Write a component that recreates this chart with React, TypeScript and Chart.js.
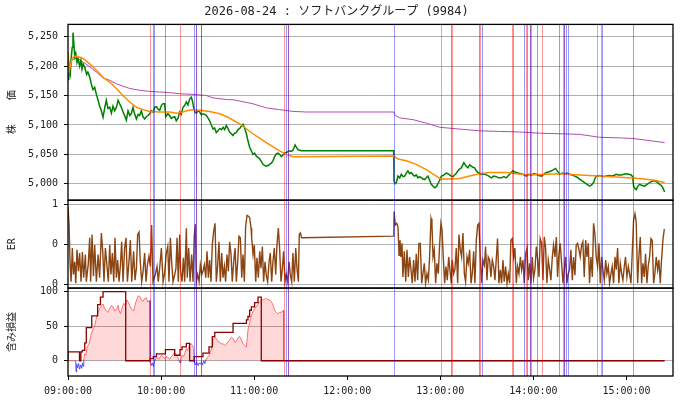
import React, { useEffect, useRef } from 'react';
import { Chart, registerables } from 'chart.js';

Chart.register(...registerables);

const MONO = "'DejaVu Sans Mono', 'Noto Sans CJK JP', monospace";

// minutes after 09:00
const timeTicks = [0, 60, 120, 180, 240, 300, 360];
const priceTicks = [5000, 5050, 5100, 5150, 5200, 5250];
const erTicks = [0, 0.5, 1];
const erTickLabels = ['0', '0', '1'];
const plTicks = [0, 50, 100];

// 株価 (tick prices, sampled)
const price: [number, number][] = [
  [0, 5185], [0.4, 5176], [0.9, 5198], [1.5, 5188], [2.1, 5215], [2.7, 5232], [3.2, 5257], [3.7, 5242],
  [4.3, 5216], [5.0, 5222], [5.8, 5206], [6.5, 5213], [7.5, 5200], [8.3, 5210], [9.0, 5195], [9.7, 5204],
  [10.8, 5198], [12.0, 5186], [12.8, 5190], [14.0, 5181], [15.0, 5170], [16.1, 5160], [17.2, 5164],
  [18.3, 5152], [19.4, 5142], [20.4, 5132], [21.5, 5124], [22.6, 5113], [23.6, 5128], [24.7, 5142],
  [25.8, 5128], [26.9, 5130], [28.0, 5120], [29.0, 5132], [30.1, 5124], [31.2, 5130], [32.3, 5142],
  [33.3, 5136], [34.4, 5130], [35.5, 5122], [36.5, 5116], [37.6, 5108], [38.7, 5124], [39.8, 5116],
  [40.8, 5119], [41.9, 5130], [43.0, 5118], [44.1, 5110], [45.2, 5118], [46.2, 5116], [47.3, 5124],
  [48.3, 5114], [49.4, 5110], [50.5, 5114], [51.6, 5116], [52.7, 5119], [53.7, 5124], [54.8, 5122],
  [55.9, 5130], [57.0, 5131], [58.0, 5127], [59.1, 5125], [60.2, 5133], [61.2, 5136], [62.3, 5136],
  [63.0, 5114], [64.4, 5119], [65.5, 5116], [66.6, 5111], [67.7, 5113], [68.8, 5114], [69.8, 5107],
  [71.0, 5112], [72.0, 5122], [73.0, 5118], [74.1, 5130], [75.2, 5133], [76.3, 5139], [77.3, 5134],
  [78.4, 5144], [79.5, 5147], [80.3, 5140], [81.2, 5127], [82.0, 5121], [82.7, 5120], [83.8, 5124],
  [84.9, 5122], [86.0, 5117], [87.0, 5119], [88.1, 5118], [89.2, 5116], [90.2, 5112], [91.3, 5107],
  [92.4, 5100], [93.5, 5093], [94.5, 5095], [95.6, 5087], [96.7, 5090], [97.8, 5094], [99.0, 5092],
  [100.0, 5096], [101.0, 5092], [102.0, 5099], [103.1, 5094], [104.2, 5088], [105.3, 5085], [106.3, 5082],
  [107.4, 5086], [108.5, 5087], [109.6, 5092], [110.7, 5094], [111.7, 5098], [112.8, 5101], [113.9, 5094],
  [115.0, 5085], [116.0, 5073], [117.1, 5062], [118.2, 5056], [119.2, 5050], [120.3, 5052], [121.4, 5047],
  [122.5, 5045], [123.6, 5042], [124.6, 5038], [125.7, 5033], [126.8, 5031], [127.9, 5030], [129.0, 5031],
  [130.0, 5033], [131.1, 5035], [132.1, 5039], [133.2, 5046], [134.3, 5051], [135.3, 5052], [136.4, 5050],
  [137.5, 5046], [138.6, 5049], [139.7, 5052], [140.8, 5053], [141.9, 5055], [142.9, 5056], [144.0, 5055],
  [145.0, 5057], [145.8, 5062], [146.4, 5066], [147.3, 5062], [148.2, 5058], [149.3, 5057], [150.4, 5056],
  [210.0, 5056],
  [210.1, 5005], [210.9, 5000], [211.7, 5002], [212.7, 5013], [213.8, 5010], [214.9, 5016], [216.0, 5012],
  [217.0, 5013], [218.1, 5018], [219.1, 5022], [220.2, 5017], [221.3, 5019], [222.4, 5015], [223.5, 5013],
  [224.5, 5015], [225.6, 5010], [226.7, 5012], [227.8, 5010], [228.8, 5008], [229.9, 5007], [231.0, 5010],
  [232.0, 5013], [233.1, 5006], [234.2, 4999], [235.2, 4996], [236.3, 4993], [237.4, 4995], [238.5, 5000],
  [239.6, 5006], [240.7, 5013], [241.7, 5014], [242.8, 5016], [243.9, 5018], [244.9, 5017], [246.0, 5015],
  [247.1, 5013], [248.2, 5012], [249.2, 5015], [250.3, 5018], [251.4, 5022], [252.4, 5025], [253.5, 5027],
  [254.5, 5032], [255.2, 5036], [256.3, 5031], [257.8, 5027], [258.9, 5032], [260.0, 5030], [261.0, 5028],
  [262.1, 5027], [263.2, 5022], [264.2, 5019], [265.3, 5018], [266.4, 5016], [268.0, 5017], [269.7, 5015],
  [271.3, 5013], [272.9, 5010], [274.5, 5013], [276.1, 5012], [277.7, 5010], [279.3, 5010], [280.9, 5012],
  [282.5, 5010], [283.6, 5013], [284.7, 5016], [285.7, 5019], [286.8, 5022], [287.9, 5020], [289.0, 5019],
  [290.6, 5018], [292.2, 5017], [293.8, 5015], [295.4, 5013], [297.0, 5016], [298.7, 5015], [300.3, 5017],
  [301.9, 5016], [303.5, 5014], [305.1, 5013], [306.7, 5016], [308.3, 5019], [309.9, 5020], [311.6, 5022],
  [313.0, 5024], [314.3, 5026], [315.6, 5021], [316.9, 5016], [318.5, 5018], [320.1, 5017], [321.7, 5018],
  [323.3, 5016], [324.9, 5015], [326.6, 5013], [328.2, 5011], [329.8, 5008], [331.4, 5005], [333.0, 5002],
  [334.6, 4999], [336.2, 4996], [337.5, 4998], [338.8, 5002], [339.6, 5008], [340.5, 5013], [342.2, 5014],
  [343.8, 5013], [345.4, 5012], [347.0, 5013], [348.6, 5014], [350.2, 5013], [351.8, 5014], [353.4, 5016],
  [355.0, 5015], [356.7, 5015], [358.3, 5016], [359.9, 5017], [361.5, 5016], [363.1, 5015], [364.0, 5012],
  [364.6, 4996], [365.4, 4992], [366.3, 4990], [367.4, 4996], [368.5, 4999], [370.1, 4997], [371.7, 4996],
  [373.3, 4999], [374.9, 5002], [376.5, 5004], [378.1, 5005], [379.7, 5003], [381.4, 4999], [382.5, 4997],
  [383.5, 4993], [384.6, 4986],
];

// moving average (orange)
const priceMa: [number, number][] = [
  [0, 5224], [0.9, 5193], [2.0, 5206], [2.9, 5214], [4.3, 5217], [6.5, 5216], [9.7, 5213], [14.0, 5204],
  [18.3, 5193], [22.6, 5181], [26.9, 5173], [31.2, 5162], [35.4, 5150], [39.8, 5139], [44.1, 5130],
  [48.3, 5126], [52.7, 5123], [59.1, 5122], [65.5, 5122], [69.9, 5120], [73.1, 5121], [76.3, 5124],
  [80.6, 5126], [84.9, 5125], [91.3, 5123], [97.8, 5119], [103.1, 5113], [110.7, 5102], [119.2, 5085],
  [127.9, 5070], [136.4, 5056], [140.8, 5050], [145.0, 5046], [147.0, 5046], [210.0, 5047], [212.7, 5042],
  [218.0, 5039], [224.5, 5033], [231.0, 5024], [237.4, 5013], [240.7, 5008], [246.0, 5008], [252.4, 5009],
  [258.9, 5013], [265.3, 5017], [271.7, 5019], [282.5, 5019], [289.0, 5017], [297.6, 5015], [308.3, 5016],
  [316.9, 5017], [329.8, 5015], [342.7, 5013], [355.6, 5011], [368.5, 5009], [378.1, 5006], [384.6, 5002],
];

// running average (purple)
const priceAvg: [number, number][] = [
  [0, 5221], [0.9, 5193], [2.5, 5210], [4.3, 5213], [6.5, 5213], [9.7, 5207], [14.0, 5199], [18.3, 5190],
  [22.6, 5180], [26.9, 5176], [31.2, 5170], [35.4, 5166], [39.8, 5162], [46.2, 5159], [52.7, 5157],
  [59.1, 5156], [65.5, 5155], [72.0, 5153], [80.6, 5152], [89.2, 5150], [93.5, 5146], [103.0, 5143],
  [106.3, 5143], [119.2, 5136], [127.9, 5129], [136.4, 5126], [145.0, 5123], [153.6, 5122], [210.0, 5122],
  [211.0, 5116], [213.8, 5112], [222.4, 5109], [231.0, 5103], [239.6, 5096], [252.4, 5093], [265.3, 5090],
  [278.2, 5089], [291.1, 5088], [304.0, 5086], [316.9, 5085], [329.8, 5084], [342.7, 5079], [355.6, 5078],
  [364.2, 5077], [384.6, 5070],
];

// ER
const er: [number, number][] = [
  [0, 0.97], [0.7, 0.74], [1.3, 0.28], [2.0, 0.03], [2.8, 0.45], [3.5, 0.12], [4.3, 0.28], [5.0, 0.01],
  [5.8, 0.43], [6.7, 0.16], [7.5, 0.39], [8.4, 0.03], [9.3, 0.4], [10.1, 0.08], [11.2, 0.37], [11.8, 0.03],
  [13.1, 0.26], [14.0, 0.58], [14.6, 0.03], [15.5, 0.62], [16.4, 0.1], [17.2, 0.49], [18.3, 0.03],
  [19.4, 0.37], [20.4, 0.08], [21.5, 0.64], [22.4, 0.41], [23.2, 0.03], [24.1, 0.45], [24.9, 0.28],
  [26.0, 0.03], [26.9, 0.49], [27.7, 0.12], [28.6, 0.39], [29.5, 0.03], [30.3, 0.58], [31.2, 0.08],
  [32.0, 0.3], [32.9, 0.03], [33.8, 0.24], [34.6, 0.53], [35.5, 0.03], [36.5, 0.45], [37.4, 0.58],
  [38.3, 0.03], [39.3, 0.28], [40.2, 0.55], [41.1, 0.03], [42.3, 0.41], [43.2, 0.05], [44.1, 0.2],
  [44.9, 0.62], [45.8, 0.65], [46.6, 0.28], [47.5, 0.03], [48.4, 0.16], [49.4, 0.39], [50.3, 0.03],
  [51.2, 0.24], [52.2, 0.35], [53.1, 0.22], [53.9, 0.74], [54.8, 0.03], [55.2, 0.03], [56.3, 0.12],
  [57.4, 0.22], [58.2, 0.03], [59.1, 0.2], [60.2, 0.45], [61.3, 0.03], [62.3, 0.14], [63.4, 0.39],
  [64.3, 0.47], [65.1, 0.03], [66.0, 0.58], [66.8, 0.28], [67.7, 0.03], [68.8, 0.12], [69.6, 0.2],
  [70.3, 0.58], [71.1, 0.03], [72.0, 0.62], [72.6, 0.16], [73.5, 0.03], [74.4, 0.33], [75.2, 0.03],
  [76.3, 0.7], [76.9, 0.08], [77.8, 0.45], [78.7, 0.03], [79.7, 0.37], [80.6, 0.03], [81.4, 0.6],
  [82.1, 0.75], [82.7, 0.03], [83.6, 0.12], [84.5, 0.03], [85.3, 0.24], [86.2, 0.12], [87.0, 0.16],
  [87.9, 0.24], [88.8, 0.08], [89.6, 0.41], [90.5, 0.08], [91.3, 0.3], [92.2, 0.03], [93.0, 0.49],
  [93.9, 0.66], [94.8, 0.76], [95.6, 0.03], [96.5, 0.24], [97.3, 0.53], [98.2, 0.03], [99.1, 0.39],
  [99.9, 0.08], [100.8, 0.22], [101.6, 0.03], [102.5, 0.37], [103.4, 0.16], [104.2, 0.53], [105.1, 0.37],
  [105.9, 0.03], [106.8, 0.28], [107.7, 0.45], [108.5, 0.03], [109.4, 0.28], [110.2, 0.6], [111.1, 0.58],
  [112.0, 0.08], [112.8, 0.37], [113.7, 0.03], [114.5, 0.72], [115.4, 0.86], [116.3, 0.85], [117.1, 0.83],
  [118.0, 0.7], [118.4, 0.58], [119.3, 0.37], [120.1, 0.49], [121.0, 0.03], [121.8, 0.33], [122.7, 0.08],
  [123.6, 0.41], [124.4, 0.2], [125.3, 0.47], [126.1, 0.03], [127.0, 0.28], [127.9, 0.1], [128.7, 0.03],
  [129.6, 0.28], [130.4, 0.39], [131.3, 0.03], [132.1, 0.28], [133.0, 0.45], [133.9, 0.12], [134.7, 0.49],
  [135.6, 0.7], [136.4, 0.45], [137.3, 0.03], [138.2, 0.2], [139.0, 0.41], [139.9, 0.03], [140.7, 0.12],
  [141.6, 0.03], [142.5, 0.28], [143.3, 0.12], [144.2, 0.03], [145.0, 0.39], [145.9, 0.03], [146.8, 0.45],
  [147.6, 0.2], [148.5, 0.03], [149.1, 0.62], [149.8, 0.64], [150.6, 0.58], [210.0, 0.6],
  [210.2, 0.91], [211.0, 0.74], [211.9, 0.76], [212.7, 0.72], [213.4, 0.36], [214.0, 0.55], [214.6, 0.34],
  [215.3, 0.51], [215.9, 0.09], [216.8, 0.41], [217.7, 0.03], [218.5, 0.43], [219.4, 0.09], [220.2, 0.34],
  [221.1, 0.18], [221.9, 0.01], [222.8, 0.3], [223.7, 0.03], [224.5, 0.38], [225.4, 0.05], [226.2, 0.51],
  [227.1, 0.51], [228.0, 0.01], [228.8, 0.13], [229.7, 0.26], [230.5, 0.01], [231.4, 0.13], [232.3, 0.05],
  [233.1, 0.34], [234.0, 0.82], [234.6, 0.76], [235.3, 0.34], [236.1, 0.43], [237.0, 0.01], [237.8, 0.26],
  [238.7, 0.13], [239.6, 0.51], [240.4, 0.76], [241.1, 0.68], [241.9, 0.34], [242.8, 0.01], [243.6, 0.22],
  [244.5, 0.05], [245.4, 0.34], [246.2, 0.18], [247.1, 0.01], [247.7, 0.3], [248.6, 0.13], [249.4, 0.18],
  [250.3, 0.45], [251.2, 0.01], [252.0, 0.62], [252.9, 0.43], [253.7, 0.34], [254.6, 0.64], [255.5, 0.13],
  [256.3, 0.03], [257.2, 0.34], [258.0, 0.26], [258.9, 0.43], [259.8, 0.01], [260.6, 0.13], [261.5, 0.41],
  [262.3, 0.01], [263.2, 0.55], [264.1, 0.74], [264.9, 0.76], [265.8, 0.34], [266.6, 0.01], [267.5, 0.3],
  [268.4, 0.24], [269.2, 0.47], [270.1, 0.05], [270.9, 0.34], [271.8, 0.3], [272.6, 0.09], [273.5, 0.3],
  [274.4, 0.22], [275.2, 0.05], [276.1, 0.32], [276.9, 0.57], [277.8, 0.01], [278.7, 0.18], [279.5, 0.01],
  [280.4, 0.3], [281.2, 0.03], [282.1, 0.22], [283.0, 0.01], [283.8, 0.13], [284.7, 0.01], [285.5, 0.55],
  [286.4, 0.57], [287.3, 0.34], [288.1, 0.45], [289.0, 0.01], [289.8, 0.22], [290.7, 0.13], [291.6, 0.34],
  [292.4, 0.18], [293.3, 0.3], [294.1, 0.01], [295.0, 0.38], [295.9, 0.45], [296.7, 0.05], [297.6, 0.26],
  [298.4, 0.01], [299.3, 0.34], [300.1, 0.07], [301.0, 0.18], [301.9, 0.47], [302.7, 0.32], [303.6, 0.09],
  [304.4, 0.57], [305.3, 0.51], [306.2, 0.05], [307.0, 0.59], [307.9, 0.45], [308.7, 0.01], [309.6, 0.3],
  [310.5, 0.18], [311.3, 0.05], [312.2, 0.34], [313.0, 0.49], [313.9, 0.34], [314.8, 0.59], [315.6, 0.09],
  [316.5, 0.38], [317.3, 0.51], [318.2, 0.26], [319.1, 0.01], [319.9, 0.18], [320.8, 0.34], [321.6, 0.01],
  [322.5, 0.13], [323.3, 0.18], [324.2, 0.43], [325.1, 0.05], [325.9, 0.34], [326.8, 0.11], [327.6, 0.49],
  [328.5, 0.51], [329.4, 0.43], [330.2, 0.34], [331.1, 0.49], [331.9, 0.53], [332.8, 0.09], [333.7, 0.55],
  [334.5, 0.34], [335.4, 0.51], [336.2, 0.01], [337.1, 0.34], [338.0, 0.09], [338.8, 0.76], [339.7, 0.62],
  [340.5, 0.34], [341.4, 0.22], [342.3, 0.51], [343.1, 0.01], [344.0, 0.34], [344.8, 0.18], [345.7, 0.05],
  [346.6, 0.3], [347.4, 0.13], [348.3, 0.22], [349.1, 0.01], [350.0, 0.13], [350.8, 0.22], [351.7, 0.01],
  [352.6, 0.34], [353.4, 0.18], [354.3, 0.45], [355.1, 0.01], [356.0, 0.26], [356.9, 0.13], [357.7, 0.05],
  [358.6, 0.22], [359.4, 0.34], [360.3, 0.09], [361.2, 0.22], [362.0, 0.13], [362.9, 0.01], [363.7, 0.38],
  [364.6, 0.8], [365.5, 0.88], [366.3, 0.78], [367.2, 0.01], [368.0, 0.34], [368.9, 0.59], [369.8, 0.01],
  [370.6, 0.26], [371.5, 0.09], [372.3, 0.38], [373.2, 0.01], [374.0, 0.22], [374.9, 0.34], [375.8, 0.57],
  [376.6, 0.55], [377.5, 0.01], [378.3, 0.13], [379.2, 0.34], [380.1, 0.18], [380.9, 0.3], [381.8, 0.01],
  [382.6, 0.3], [383.5, 0.55], [384.4, 0.69],
];

// 含み損益 (light line)
const pnl: [number, number][] = [
  [0, 0], [5.0, 0], [5.2, -16], [5.6, -5], [6.2, -10], [6.8, -4], [7.5, -12], [8.2, -6], [8.8, -11],
  [9.4, -3], [9.7, -8], [10.2, 2], [10.8, 10], [11.5, 8], [12.3, 20], [13.5, 24], [15.1, 40], [16.2, 46],
  [17.2, 50], [18.3, 62], [19.4, 70], [20.5, 76], [21.5, 80], [22.6, 82], [23.7, 75], [24.7, 72],
  [25.8, 70], [26.9, 76], [28.0, 80], [29.1, 78], [30.1, 72], [31.2, 74], [32.3, 80], [33.0, 72],
  [33.8, 68], [34.8, 76], [35.9, 83], [37.0, 80], [38.0, 88], [39.1, 84], [40.2, 78], [41.3, 74],
  [42.4, 72], [43.4, 82], [44.5, 90], [45.4, 94], [46.2, 93], [47.3, 88], [48.4, 86], [49.5, 90],
  [50.5, 91], [51.4, 85], [52.2, 86], [52.9, 87], [53.0, -2], [53.6, -7], [54.3, -3], [55.0, -8],
  [55.7, -2], [56.5, 3], [57.5, 5], [58.5, 2], [59.5, 6], [60.5, 8], [61.5, 5], [62.5, 3], [63.5, 6],
  [64.5, 5], [65.5, 2], [66.5, 6], [67.5, 8], [68.5, 12], [69.5, 10], [70.5, 6], [71.5, 1], [72.2, -3],
  [72.8, 2], [73.5, 8], [74.5, 6], [75.5, 12], [76.3, 18], [77.2, 15], [78.2, 22], [79.2, 25], [80.2, 22],
  [81.0, 18], [81.3, 0], [81.6, -3], [82.3, -6], [83.0, -2], [83.8, -7], [84.5, -3], [85.3, -5],
  [86.0, -2], [86.8, -6], [87.5, 0], [88.2, -4], [89.0, 2], [90.0, 5], [91.0, 8], [92.0, 14], [93.0, 22],
  [93.4, 30], [94.6, 34], [95.6, 32], [96.7, 28], [97.8, 27], [98.9, 24], [99.9, 25], [101.0, 22],
  [102.1, 24], [103.2, 28], [104.2, 30], [105.3, 34], [106.4, 32], [107.5, 27], [108.5, 28], [109.6, 33],
  [110.7, 35], [111.7, 30], [112.8, 25], [113.9, 22], [115.0, 20], [116.0, 44], [117.6, 61], [118.4, 66],
  [119.2, 71], [120.3, 75], [121.4, 78], [122.5, 82], [123.5, 85], [124.6, 87], [125.7, 88], [126.7, 89],
  [127.8, 90], [128.9, 88], [130.0, 88], [130.8, 86], [131.7, 83], [132.5, 78], [133.2, 73], [134.2, 70],
  [135.3, 68], [136.4, 70], [137.5, 70], [138.3, 72], [139.0, 73], [139.05, 0], [384.6, 0],
];

// 含み損益 high-water mark (dark step line)
const pnlMax: [number, number][] = [
  [0, 0], [7.4, 13], [8.3, 0], [9.2, 13], [10.8, 15], [11.8, 26], [15.3, 48], [19.1, 65], [20.9, 81],
  [22.6, 92], [37.2, 100], [52.9, 0], [55.0, 3], [57.0, 6], [62.8, 10], [68.8, 16], [72.2, 8], [73.5, 16],
  [76.3, 20], [78.4, 25], [81.3, 0], [87.0, 6], [90.9, 11], [93.0, 20], [94.6, 35], [106.4, 41],
  [115.0, 54], [116.0, 59], [117.1, 64], [118.2, 73], [120.3, 78], [122.5, 84], [124.6, 92], [139.0, 0],
  [384.6, 0],
];

const redLines = [52.9, 72.2, 82.6, 85.7, 139.2, 142.1, 240.4, 247.5, 265.8, 286.4, 295.0, 297.6, 298.7,
  305.5, 319.0, 319.7, 340.9, 343.8];
const blueLines = [54.8, 55.4, 62.5, 81.4, 82.6, 85.7, 140.8, 142.1, 210.1, 246.9, 265.1, 267.1, 287.0,
  293.9, 296.1, 297.6, 302.3, 316.5, 320.0, 321.2, 322.3, 344.4, 364.1];

const pts = (arr: [number, number][]) => arr.map(([x, y]) => ({ x, y }));

const fmtTime = (v: number) => {
  const h = 9 + Math.floor(v / 60);
  const m = Math.round(v % 60);
  return `${String(h).padStart(2, '0')}:${String(m).padStart(2, '0')}:00`;
};

const panelPlugin = {
  id: 'panels',
  afterDatasetsDraw(chart: any) {
    const { ctx, chartArea, scales } = chart;
    const xs = scales.x;
    ctx.save();
    ctx.lineWidth = 1;
    const vlines = (vals: number[], color: string) => {
      ctx.strokeStyle = color;
      vals.forEach((v) => {
        const px = Math.round(xs.getPixelForValue(v)) + 0.5;
        ctx.beginPath();
        ctx.moveTo(px, chartArea.top);
        ctx.lineTo(px, chartArea.bottom);
        ctx.stroke();
      });
    };
    vlines(redLines, 'rgba(255,0,0,0.4)');
    vlines(blueLines, 'rgba(0,0,255,0.4)');
    ctx.strokeStyle = '#000';
    ctx.lineWidth = 1.3;
    ['y', 'yEr', 'yPl'].forEach((id) => {
      const s = scales[id];
      ctx.strokeRect(chartArea.left, s.top, chartArea.right - chartArea.left, s.bottom - s.top);
    });
    ctx.restore();
  },
};

const yCommon = (ticks: number[], weight: number, title: string, label: (v: number, i: number) => string) => ({
  type: 'linear' as const,
  position: 'left' as const,
  stack: 'panels',
  stackWeight: weight,
  border: { display: false },
  grid: { color: '#b0b0b0', lineWidth: 1, tickLength: 4, tickColor: '#000' },
  ticks: {
    font: { family: MONO, size: 10 },
    color: '#222',
    padding: 6,
    callback: (v: any, i: number) => label(Number(v), i),
  },
  afterBuildTicks: (s: any) => {
    s.ticks = ticks.map((value) => ({ value }));
  },
  afterFit: (s: any) => {
    s.width = 68;
  },
  title: {
    display: true,
    text: title,
    font: { family: MONO, size: 10 },
    color: '#222',
    padding: { top: 6, bottom: 0 },
  },
});

export default function App() {
  const ref = useRef<HTMLCanvasElement>(null);

  useEffect(() => {
    if (!ref.current) return;
    const chart = new Chart(ref.current, {
      type: 'line',
      data: {
        datasets: [
          { label: 'ma', data: pts(priceMa), yAxisID: 'y', borderColor: '#ff8c00', borderWidth: 1.5, order: 1 },
          { label: 'price', data: pts(price), yAxisID: 'y', borderColor: '#008000', borderWidth: 1.5, order: 2 },
          { label: 'avg', data: pts(priceAvg), yAxisID: 'y', borderColor: '#b04cb0', borderWidth: 1, order: 3 },
          { label: 'ER', data: pts(er), yAxisID: 'yEr', borderColor: '#8b4513', borderWidth: 1.4, order: 4 },
          {
            label: 'pnlMax', data: pts(pnlMax), yAxisID: 'yPl', borderColor: '#8b0000', borderWidth: 1.3,
            stepped: 'after', order: 5,
          },
          {
            label: 'pnl', data: pts(pnl), yAxisID: 'yPl', borderColor: 'rgba(255,70,70,0.75)', borderWidth: 1,
            order: 6,
            fill: { target: { value: 0 }, above: 'rgba(255,0,0,0.15)', below: 'rgba(0,0,0,0)' },
            segment: {
              borderColor: (c: any) =>
                c.p0.parsed.y < 0 || c.p1.parsed.y < 0 ? 'rgba(40,40,255,0.75)' : undefined,
            },
          },
        ],
      },
      options: {
        animation: false,
        responsive: true,
        maintainAspectRatio: false,
        parsing: false,
        elements: { point: { radius: 0 }, line: { tension: 0 } },
        layout: { padding: { left: 0, right: 7, top: 0, bottom: 0 } },
        plugins: {
          legend: { display: false },
          tooltip: { enabled: false },
          title: {
            display: true,
            text: '2026-08-24 : ソフトバンクグループ (9984)',
            font: { family: MONO, size: 12, weight: 'normal' },
            color: '#222',
            padding: { top: 5, bottom: 5 },
          },
        },
        scales: {
          x: {
            type: 'linear',
            position: 'bottom',
            min: 0,
            max: 390,
            border: { display: false },
            grid: { drawOnChartArea: false, tickLength: 4, tickColor: '#000' },
            ticks: {
              font: { family: MONO, size: 10 },
              color: '#222',
              padding: 5,
              maxRotation: 0,
              callback: (v: any) => fmtTime(Number(v)),
            },
            afterBuildTicks: (s: any) => {
              s.ticks = timeTicks.map((value) => ({ value }));
            },
            afterFit: (s: any) => {
              s.height = 24;
            },
          },
          // stacked panels are laid out bottom-up, so the lowest panel comes first
          yPl: { ...yCommon(plTicks, 1, '含み損益', (v) => String(v)), min: -22, max: 105 },
          yEr: { ...yCommon(erTicks, 1, 'ER', (_v, i) => erTickLabels[i]), min: -0.05, max: 1.05 },
          y: { ...yCommon(priceTicks, 2, '株    価', (v) => v.toLocaleString('en-US')), min: 4972, max: 5271 },
        },
      },
      plugins: [panelPlugin],
    });
    return () => chart.destroy();
  }, []);

  return (
    <div style={{ position: 'fixed', left: 0, top: 0, width: 680, height: 400, background: '#fff' }}>
      <canvas ref={ref} />
    </div>
  );
}
